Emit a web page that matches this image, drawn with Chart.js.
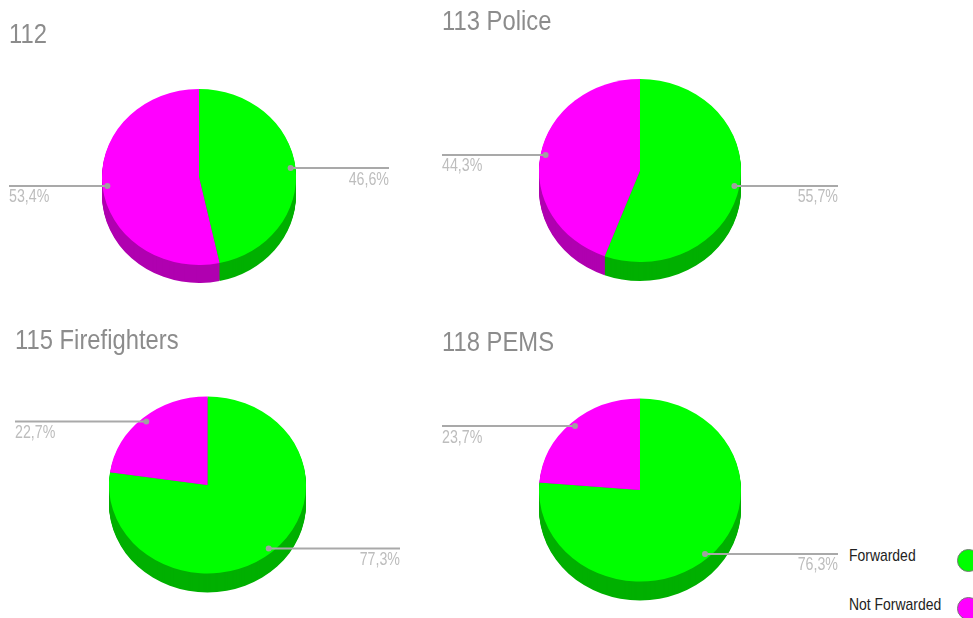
<!DOCTYPE html>
<html>
<head>
<meta charset="utf-8">
<title>Forwarded calls</title>
<script src="https://cdn.jsdelivr.net/npm/chart.js@4"></script>
<style>
  html, body { margin: 0; padding: 0; background: #fff; width: 973px; height: 618px; overflow: hidden; }
  canvas { position: absolute; }
  .legend-label { position: absolute; left: 849px; font: 17px "Liberation Sans", sans-serif; color: #222; line-height: 20px; white-space: nowrap; transform: scaleX(0.82); transform-origin: left center; }
  .legend-dot { position: absolute; left: 957px; width: 21px; height: 21px; border: 1px solid #777; border-radius: 50%; }
</style>
</head>
<body>
<canvas id="c0"></canvas>
<canvas id="c1"></canvas>
<canvas id="c2"></canvas>
<canvas id="c3"></canvas>
<div id="legend"></div>
<script>
// values
const titles = ['112', '113 Police', '115 Firefighters', '118 PEMS']
const categories = ['Forwarded', 'Not Forwarded']
const forwarded = [46.6, 55.7, 77.3, 76.3]
const notForwarded = [53.4, 44.3, 22.7, 23.7]

const colors = ['#00ff00', '#ff00ff']
const sideColors = ['#00b000', '#b000b0']

// canvas box and the squashed pie shape for each chart
const boxes = [
  { left: 9, top: 18, width: 380, height: 284, rx: 97, ry: 88, depth: 18 },
  { left: 442, top: 5, width: 396, height: 297, rx: 101, ry: 91.5, depth: 19 },
  { left: 15, top: 324, width: 385, height: 288, rx: 98.5, ry: 88.5, depth: 19 },
  { left: 442, top: 326, width: 396, height: 294, rx: 101, ry: 91.5, depth: 19 }
]

const FONT = '"Liberation Sans", sans-serif'
const TITLE_HEIGHT = 34

// the reference text is horizontally condensed, no narrow font is installed
function squeezedText(ctx, text, x, y, squeeze) {
  ctx.save()
  ctx.translate(x, y)
  ctx.scale(squeeze, 1)
  ctx.fillText(text, 0, 0)
  ctx.restore()
}

// draws the slices as flat ellipses with an extruded side wall
const tiltPlugin = {
  id: 'tilt',
  beforeDatasetsDraw(chart, args, opts) {
    const arcs = chart.getDatasetMeta(0).data
    const ctx = chart.ctx
    const { x, y, outerRadius } = arcs[0]
    const sy = opts.ry / outerRadius

    ctx.save()
    ctx.translate(x, y)
    ctx.scale(opts.rx / outerRadius, sy)
    ctx.translate(-x, -y)

    for (let d = opts.depth; d >= 1; d--) {
      arcs.forEach((arc, i) => {
        ctx.beginPath()
        ctx.moveTo(arc.x, arc.y + d / sy)
        ctx.arc(arc.x, arc.y + d / sy, arc.outerRadius, arc.startAngle, arc.endAngle)
        ctx.closePath()
        ctx.fillStyle = sideColors[i]
        ctx.fill()
      })
    }
  },
  afterDatasetsDraw(chart) {
    chart.ctx.restore()
  },
  afterDraw(chart, args, opts) {
    const ctx = chart.ctx
    const values = chart.data.datasets[0].data

    ctx.fillStyle = '#8c8c8c'
    ctx.font = '28px ' + FONT
    ctx.textAlign = 'left'
    ctx.textBaseline = 'middle'
    squeezedText(ctx, opts.title, 0, TITLE_HEIGHT / 2, 0.85)

    chart.getDatasetMeta(0).data.forEach((arc, i) => {
      const mid = (arc.startAngle + arc.endAngle) / 2
      const px = arc.x + Math.cos(mid) * opts.rx * 0.95
      const py = arc.y + Math.sin(mid) * opts.ry * 0.95
      const right = Math.cos(mid) > 0
      const endX = right ? chart.width : 0

      ctx.strokeStyle = '#a9a9a9'
      ctx.lineWidth = 2
      ctx.beginPath()
      ctx.moveTo(px, py)
      ctx.lineTo(endX, py)
      ctx.stroke()

      ctx.fillStyle = '#a0a0a0'
      ctx.beginPath()
      ctx.arc(px, py, 3, 0, Math.PI * 2)
      ctx.fill()

      ctx.fillStyle = '#bdbdbd'
      ctx.font = '18px ' + FONT
      ctx.textAlign = right ? 'right' : 'left'
      ctx.textBaseline = 'middle'
      squeezedText(ctx, values[i].toFixed(1).replace('.', ',') + '%', endX, py + 11.5, 0.79)
    })
  }
}

titles.forEach((title, i) => {
  const box = boxes[i]
  const canvas = document.getElementById('c' + i)
  canvas.width = box.width
  canvas.height = box.height
  canvas.style.left = box.left + 'px'
  canvas.style.top = box.top + 'px'

  new Chart(canvas, {
    type: 'pie',
    data: {
      labels: categories,
      datasets: [{
        data: [forwarded[i], notForwarded[i]],
        backgroundColor: colors,
        borderWidth: 0,
        clip: false
      }]
    },
    options: {
      responsive: false,
      animation: false,
      events: [],
      layout: { padding: { top: TITLE_HEIGHT } },
      plugins: {
        legend: { display: false },
        tooltip: { enabled: false },
        tilt: { title: title, rx: box.rx, ry: box.ry, depth: box.depth }
      }
    },
    plugins: [tiltPlugin]
  })
})

// legend sits at the bottom right, its dots run off the page edge
const legendEl = document.getElementById('legend')
const legendTops = [546, 594]
categories.forEach((name, i) => {
  const label = document.createElement('div')
  label.className = 'legend-label'
  label.style.top = (legendTops[i] + i) + 'px'
  label.textContent = name
  legendEl.appendChild(label)

  const dot = document.createElement('div')
  dot.className = 'legend-dot'
  dot.style.top = (legendTops[i] + 3) + 'px'
  dot.style.background = colors[i]
  legendEl.appendChild(dot)
})
</script>
</body>
</html>
